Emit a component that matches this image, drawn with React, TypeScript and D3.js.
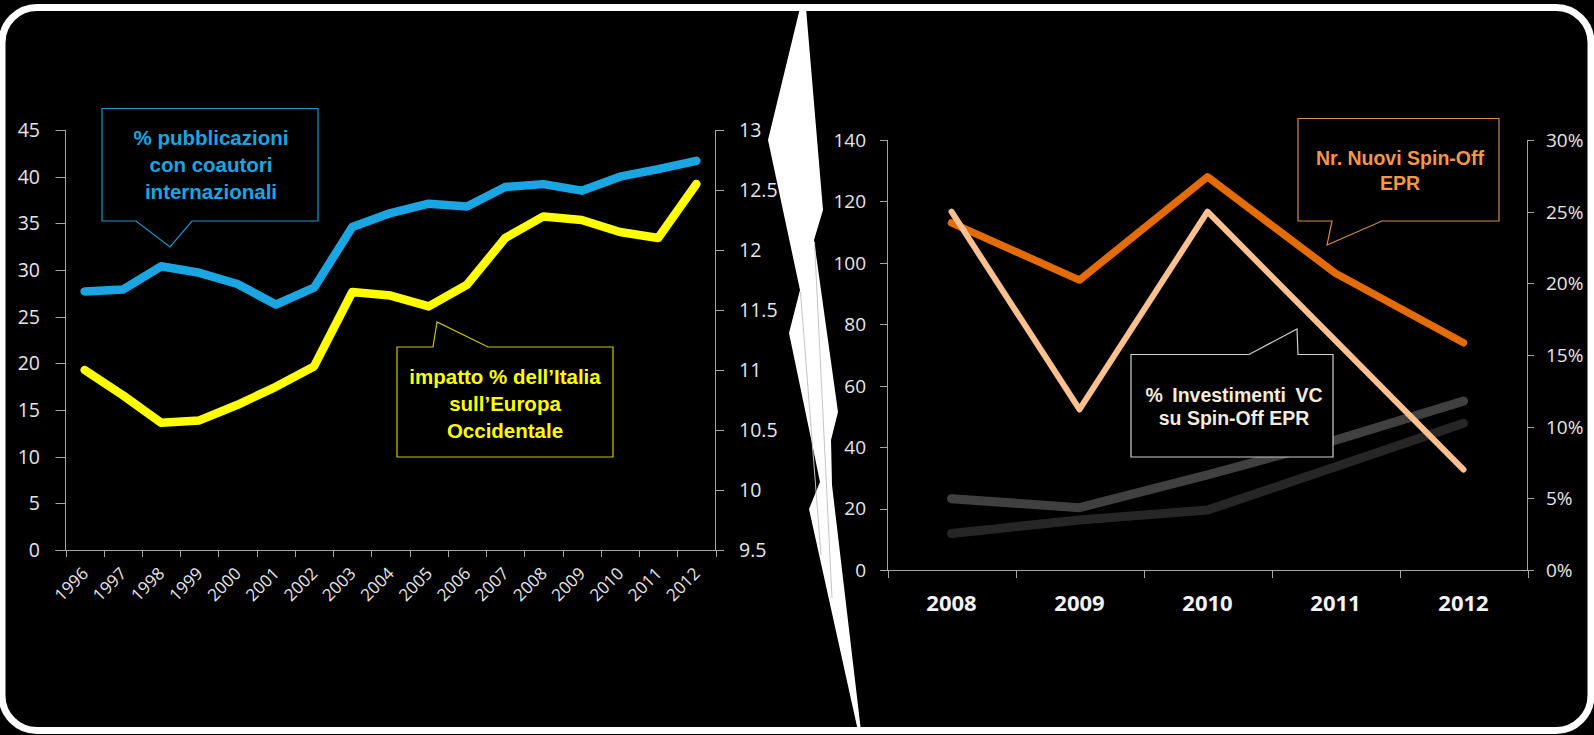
import React from 'react';
import * as d3 from 'd3';

// ---- Left panel: international co-authorship and Italy's impact ----
const yearsLeft = ['1996', '1997', '1998', '1999', '2000', '2001', '2002', '2003', '2004', '2005', '2006', '2007', '2008', '2009', '2010', '2011', '2012'];
const coauthorShare = [27.7, 27.9, 30.4, 29.7, 28.5, 26.3, 28.1, 34.6, 36.1, 37.1, 36.8, 38.9, 39.2, 38.5, 40.0, 40.8, 41.7];
const italyImpact = [11.0, 10.79, 10.56, 10.58, 10.71, 10.86, 11.03, 11.65, 11.62, 11.53, 11.71, 12.1, 12.28, 12.25, 12.15, 12.1, 12.55];
const leftTicks = [0, 5, 10, 15, 20, 25, 30, 35, 40, 45];
const rightTicks = [9.5, 10, 10.5, 11, 11.5, 12, 12.5, 13];

// ---- Right panel: spin-offs and VC investment ----
const yearsRight = ['2008', '2009', '2010', '2011', '2012'];
const newSpinOffs = [113, 94.4, 128, 96.6, 74];
const vcShare = [25.0, 11.2, 25.0, 16.0, 7.0];
const seriesGreyA = [23.2, 20.3, 31.0, 42.3, 55.0];
const seriesGreyB = [11.9, 16.3, 19.5, 33.6, 47.8];
const countTicks = [0, 20, 40, 60, 80, 100, 120, 140];
const pctTicks = [0, 5, 10, 15, 20, 25, 30];

const W = 1594;
const H = 735;
const tickFont = "'Open Sans', 'Liberation Sans', sans-serif";
const boxFont = "'Liberation Sans', Arial, sans-serif";
const axisColor = '#a6a6a6';
const labelColor = '#e6e6e6';

export default function App() {
  // left scales
  const xL = d3.scaleBand<string>().domain(yearsLeft).range([65.5, 715.5]).padding(0);
  const yL = d3.scaleLinear().domain([0, 45]).range([550, 130]);
  const yLR = d3.scaleLinear().domain([9.5, 13]).range([550, 130]);
  const cxL = (y: string) => (xL(y) as number) + xL.bandwidth() / 2;

  const blueLine = d3.line<number>().x((_, i) => cxL(yearsLeft[i])).y((d) => yL(d));
  const yellowLine = d3.line<number>().x((_, i) => cxL(yearsLeft[i])).y((d) => yLR(d));

  // right scales
  const xR = d3.scaleBand<string>().domain(yearsRight).range([887.5, 1527.5]).padding(0);
  const yN = d3.scaleLinear().domain([0, 140]).range([570, 140]);
  const yP = d3.scaleLinear().domain([0, 30]).range([570, 140]);
  const cxR = (y: string) => (xR(y) as number) + xR.bandwidth() / 2;
  const countLine = d3.line<number>().x((_, i) => cxR(yearsRight[i])).y((d) => yN(d));
  const pctLine = d3.line<number>().x((_, i) => cxR(yearsRight[i])).y((d) => yP(d));

  const bandEdgesL = yearsLeft.map((y) => xL(y) as number).concat([xL.range()[1]]);
  const bandEdgesR = yearsRight.map((y) => xR(y) as number).concat([xR.range()[1]]);

  return (
    <svg
      width={W}
      height={H}
      viewBox={`0 0 ${W} ${H}`}
      style={{ position: 'absolute', left: 0, top: 0, display: 'block', background: '#000' }}
    >
      <rect x={0} y={0} width={W} height={H} fill="#000" />

      {/* ===== Left chart ===== */}
      <g>
        {/* left axis */}
        <line x1={65.5} x2={65.5} y1={yL(45)} y2={yL(0)} stroke={axisColor} strokeWidth={1} />
        {leftTicks.map((t) => (
          <g key={'lt' + t}>
            <line x1={55.5} x2={65.5} y1={Math.round(yL(t)) + 0.5} y2={Math.round(yL(t)) + 0.5} stroke={axisColor} />
            <text x={40} y={yL(t)} dy="0.36em" textAnchor="end" fontFamily={tickFont} fontSize={19.5} fill={labelColor}>
              {t}
            </text>
          </g>
        ))}
        {/* right axis */}
        <line x1={715.5} x2={715.5} y1={yLR(13)} y2={yLR(9.5)} stroke={axisColor} strokeWidth={1} />
        {rightTicks.map((t) => (
          <g key={'rt' + t}>
            <line x1={715.5} x2={724} y1={Math.round(yLR(t)) + 0.5} y2={Math.round(yLR(t)) + 0.5} stroke={axisColor} />
            <text x={739} y={yLR(t)} dy="0.36em" textAnchor="start" fontFamily={tickFont} fontSize={19.5} fill={labelColor}>
              {t}
            </text>
          </g>
        ))}
        {/* category axis */}
        <line x1={55.5} x2={724} y1={550.5} y2={550.5} stroke={axisColor} />
        {bandEdgesL.map((x, i) => (
          <line key={'xe' + i} x1={Math.round(x) + 0.5} x2={Math.round(x) + 0.5} y1={550.5} y2={557} stroke={axisColor} />
        ))}
        {yearsLeft.map((y) => (
          <text
            key={'xl' + y}
            transform={`translate(${cxL(y) - 4},${566}) rotate(-45)`}
            dy="0.72em"
            textAnchor="end"
            fontFamily={tickFont}
            fontSize={17}
            fill={labelColor}
          >
            {y}
          </text>
        ))}

        <path d={blueLine(coauthorShare) || ''} fill="none" stroke="#1aa6e2" strokeWidth={8.5} strokeLinejoin="round" strokeLinecap="round" />
        <path d={yellowLine(italyImpact) || ''} fill="none" stroke="#ffff00" strokeWidth={8.5} strokeLinejoin="round" strokeLinecap="round" />

        {/* callouts */}
        <path d="M102,108.5 H318 V221 H192 L170,247 L136,221 H102 Z" fill="#000" stroke="#1f95c8" strokeWidth={1.2} />
        <g fontFamily={boxFont} fontWeight="bold" fontSize={20.5} fill="#1aa6e2" textAnchor="middle">
          <text x={211} y={145}>% pubblicazioni</text>
          <text x={211} y={172}>con coautori</text>
          <text x={211} y={199}>internazionali</text>
        </g>
        <path d="M397,347 H433 L437,322 L488,347 H613 V457 H397 Z" fill="#000" stroke="#c9c900" strokeWidth={1.2} />
        <g fontFamily={boxFont} fontWeight="bold" fontSize={20.5} fill="#ffff00" textAnchor="middle">
          <text x={505} y={384}>impatto % dell’Italia</text>
          <text x={505} y={411}>sull’Europa</text>
          <text x={505} y={438}>Occidentale</text>
        </g>
      </g>

      {/* ===== Right chart ===== */}
      <g>
        <line x1={887.5} x2={887.5} y1={yN(140)} y2={yN(0)} stroke={axisColor} />
        {countTicks.map((t) => (
          <g key={'ct' + t}>
            <line x1={880} x2={887.5} y1={Math.round(yN(t)) + 0.5} y2={Math.round(yN(t)) + 0.5} stroke={axisColor} />
            <text x={866} y={yN(t)} dy="0.36em" textAnchor="end" fontFamily={tickFont} fontSize={19} fill={labelColor}>
              {t}
            </text>
          </g>
        ))}
        <line x1={1527.5} x2={1527.5} y1={yP(30)} y2={yP(0)} stroke={axisColor} />
        {pctTicks.map((t) => (
          <g key={'pt' + t}>
            <line x1={1527.5} x2={1534} y1={Math.round(yP(t)) + 0.5} y2={Math.round(yP(t)) + 0.5} stroke={axisColor} />
            <text x={1546} y={yP(t)} dy="0.36em" textAnchor="start" fontFamily={tickFont} fontSize={19} fill={labelColor}>
              {t + '%'}
            </text>
          </g>
        ))}
        <line x1={880} x2={1534} y1={570.5} y2={570.5} stroke={axisColor} />
        {bandEdgesR.map((x, i) => (
          <line key={'re' + i} x1={Math.round(x) + 0.5} x2={Math.round(x) + 0.5} y1={570.5} y2={578} stroke={axisColor} />
        ))}
        {yearsRight.map((y) => (
          <text key={'rx' + y} x={cxR(y)} y={611} textAnchor="middle" fontFamily={tickFont} fontWeight="bold" fontSize={22} fill="#f2f2f2">
            {y}
          </text>
        ))}

        <path d={countLine(seriesGreyB) || ''} fill="none" stroke="#262626" strokeWidth={9} strokeLinejoin="round" strokeLinecap="round" />
        <path d={countLine(seriesGreyA) || ''} fill="none" stroke="#404040" strokeWidth={9} strokeLinejoin="round" strokeLinecap="round" />
        <path d={countLine(newSpinOffs) || ''} fill="none" stroke="#e36c09" strokeWidth={7.5} strokeLinejoin="round" strokeLinecap="round" />
        <path d={pctLine(vcShare) || ''} fill="none" stroke="#fac090" strokeWidth={6} strokeLinejoin="round" strokeLinecap="round" />

        <path d="M1298,118.5 H1499 V221 H1382 L1327,245 L1332,221 H1298 Z" fill="#000" stroke="#d08b4f" strokeWidth={1.2} />
        <g fontFamily={boxFont} fontWeight="bold" fontSize={19.5} fill="#f79646" textAnchor="middle">
          <text x={1400} y={165}>Nr. Nuovi Spin-Off</text>
          <text x={1400} y={190}>EPR</text>
        </g>
        <path d="M1131,354.5 H1249 L1297,329 L1298,354.5 H1333 V457 H1131 Z" fill="#000" stroke="#cfcfcf" strokeWidth={1.2} />
        <g fontFamily={boxFont} fontWeight="bold" fontSize={19.5} fill="#f3ebdd" textAnchor="middle">
          <text x={1234} y={401.5} wordSpacing={4}>% Investimenti VC</text>
          <text x={1234} y={425}>su Spin-Off EPR</text>
        </g>
      </g>

      {/* ===== Zig-zag divider between the panels ===== */}
      <polygon
        points="800,8 768,140 800,290 789,333 820,482 809,509 858,731 861,731 832,485 831,440 838,412 814,240 823,210 806,8"
        fill="#fff"
      />
      <line x1={800.5} y1={292} x2={821} y2={555} stroke="#c4c4c4" strokeWidth={1} />
      <line x1={814.5} y1={242} x2={832} y2={598} stroke="#c4c4c4" strokeWidth={1} />

      {/* ===== Rounded frame ===== */}
      <rect x={2} y={7.5} width={1589} height={723} rx={35} ry={35} fill="none" stroke="#fff" strokeWidth={7} />
    </svg>
  );
}
